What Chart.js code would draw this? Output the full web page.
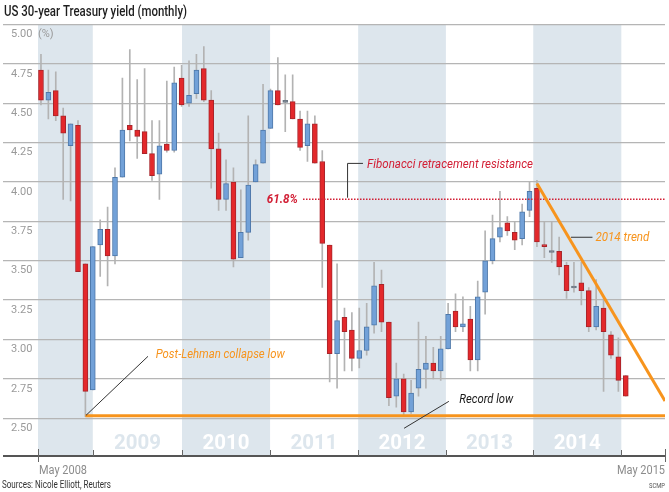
<!DOCTYPE html>
<html>
<head>
<meta charset="utf-8">
<script src="https://cdn.jsdelivr.net/npm/chart.js@4.4.1/dist/chart.umd.min.js"></script>
<style>
  body { margin: 0; background: #fff; }
  #myChart { display: block; }
</style>
</head>
<body>
<canvas id="myChart" width="669" height="492"></canvas>
<script>
// monthly candles, Jun 2008 .. Jan 2015
const months = [
  "Jun 2008", "Jul 2008", "Aug 2008", "Sep 2008", "Oct 2008", "Nov 2008", "Dec 2008",
  "Jan 2009", "Feb 2009", "Mar 2009", "Apr 2009", "May 2009", "Jun 2009", "Jul 2009", "Aug 2009", "Sep 2009", "Oct 2009", "Nov 2009", "Dec 2009",
  "Jan 2010", "Feb 2010", "Mar 2010", "Apr 2010", "May 2010", "Jun 2010", "Jul 2010", "Aug 2010", "Sep 2010", "Oct 2010", "Nov 2010", "Dec 2010",
  "Jan 2011", "Feb 2011", "Mar 2011", "Apr 2011", "May 2011", "Jun 2011", "Jul 2011", "Aug 2011", "Sep 2011", "Oct 2011", "Nov 2011", "Dec 2011",
  "Jan 2012", "Feb 2012", "Mar 2012", "Apr 2012", "May 2012", "Jun 2012", "Jul 2012", "Aug 2012", "Sep 2012", "Oct 2012", "Nov 2012", "Dec 2012",
  "Jan 2013", "Feb 2013", "Mar 2013", "Apr 2013", "May 2013", "Jun 2013", "Jul 2013", "Aug 2013", "Sep 2013", "Oct 2013", "Nov 2013", "Dec 2013",
  "Jan 2014", "Feb 2014", "Mar 2014", "Apr 2014", "May 2014", "Jun 2014", "Jul 2014", "Aug 2014", "Sep 2014", "Oct 2014", "Nov 2014", "Dec 2014",
  "Jan 2015"
];
const open = [
  4.71, 4.52, 4.58, 4.42, 4.23, 4.36, 3.48,
  2.68, 3.60, 3.70, 3.53, 4.03, 4.36, 4.33, 4.32, 4.18, 4.05, 4.24, 4.20,
  4.66, 4.50, 4.56, 4.72, 4.52, 4.21, 3.89, 4.00, 3.52, 3.68, 4.00, 4.12,
  4.34, 4.58, 4.51, 4.51, 4.40, 4.23, 4.37, 4.13, 3.60, 2.91, 3.14, 3.06,
  2.88, 2.93, 3.09, 3.35, 3.11, 2.64, 2.75, 2.54, 2.69, 2.81, 2.85, 2.80,
  2.94, 3.18, 3.08, 3.13, 2.87, 3.30, 3.50, 3.65, 3.74, 3.68, 3.64, 3.82,
  3.96, 3.60, 3.556, 3.56, 3.47, 3.33, 3.36, 3.31, 3.08, 3.20, 3.03, 2.89,
  2.77
];
const high = [
  4.81, 4.71, 4.70, 4.47, 4.37, 4.39, 3.48,
  3.59, 3.76, 3.84, 4.09, 4.66, 4.84, 4.65, 4.72, 4.39, 4.39, 4.64, 4.73,
  4.74, 4.77, 4.81, 4.86, 4.58, 4.31, 4.14, 4.09, 3.95, 4.42, 4.14, 4.62,
  4.59, 4.79, 4.68, 4.68, 4.45, 4.45, 4.42, 4.20, 3.60, 3.48, 3.20, 3.17,
  3.20, 3.23, 3.49, 3.44, 3.11, 2.85, 2.78, 2.74, 3.11, 3.02, 2.95, 3.02,
  3.23, 3.29, 3.27, 3.21, 3.37, 3.69, 3.79, 3.94, 3.78, 3.75, 3.86, 4.00,
  4.01, 3.75, 3.75, 3.65, 3.49, 3.49, 3.49, 3.33, 3.38, 3.26, 3.05, 3.01,
  2.77
];
const low = [
  4.49, 4.40, 4.39, 3.89, 3.88, 3.43, 2.51,
  2.68, 3.40, 3.34, 3.48, 4.03, 4.26, 4.15, 4.18, 4.01, 3.89, 4.19, 4.19,
  4.48, 4.48, 4.53, 4.51, 3.96, 3.82, 3.82, 3.46, 3.52, 3.63, 4.00, 4.12,
  4.34, 4.49, 4.32, 4.40, 4.20, 4.13, 4.12, 3.33, 2.73, 2.69, 2.80, 2.80,
  2.82, 2.90, 3.04, 3.05, 2.58, 2.57, 2.51, 2.53, 2.64, 2.69, 2.75, 2.74,
  2.94, 3.05, 3.05, 2.80, 2.80, 3.16, 3.48, 3.62, 3.66, 3.57, 3.60, 3.78,
  3.59, 3.52, 3.49, 3.41, 3.26, 3.30, 3.22, 3.05, 3.06, 2.67, 2.88, 2.67,
  2.64
];
const close = [
  4.52, 4.57, 4.42, 4.31, 4.37, 3.43, 2.67,
  3.59, 3.70, 3.53, 4.03, 4.33, 4.33, 4.29, 4.18, 4.04, 4.23, 4.20, 4.63,
  4.49, 4.55, 4.71, 4.52, 4.21, 3.89, 3.99, 3.51, 3.68, 3.98, 4.11, 4.33,
  4.58, 4.49, 4.505, 4.40, 4.22, 4.37, 4.12, 3.61, 2.91, 3.12, 3.05, 2.88,
  2.93, 3.08, 3.34, 3.11, 2.63, 2.75, 2.54, 2.66, 2.81, 2.85, 2.80, 2.94,
  3.16, 3.08, 3.10, 2.87, 3.27, 3.50, 3.64, 3.71, 3.69, 3.63, 3.81, 3.94,
  3.62, 3.59, 3.552, 3.46, 3.31, 3.327, 3.31, 3.08, 3.21, 3.05, 2.90, 2.74,
  2.64
];

const yTicks = [2.50, 2.75, 3.00, 3.25, 3.50, 3.75, 4.00, 4.25, 4.50, 4.75, 5.00];

// x axis in months from Jun 2008 (0)
const axisEnds = [-0.4, 84.3];
const axisEndLabels = ["May 2008", "May 2015"];
const yearStarts = [7, 19.05, 30.95, 42.85, 54.7, 66.5, 78.4];
const yearNames = ["2009", "2010", "2011", "2012", "2013", "2014"];

// levels drawn on the chart
const lowLevel = 2.515;       // post-Lehman / record low
const lowFrom = 6;
const fibLevel = 3.89;        // 61.8% retracement
const fibFrom = 35.4;
const trendFrom = { x: 67, y: 3.99 };
const trendTo = { x: 84.3, y: 2.61 };

const BLUE = "#72a1d8", BLUE_EDGE = "#4e78a9";
const RED = "#e3282b", RED_EDGE = "#a8242a";
const ORANGE = "#f7941d";
const FIBRED = "#d21f35";
const BAND = "#dde6ed";

const bodyData = months.map((m, i) => ({ x: i, y: [open[i], close[i]] }));
const wickData = months.map((m, i) => ({ x: i, y: [low[i], high[i]] }));
const bodyFill = months.map((m, i) => {
  if (Math.abs(close[i] - open[i]) < 0.01) return "#6d7885";
  return close[i] > open[i] ? BLUE : RED;
});
const bodyEdge = months.map((m, i) => {
  if (Math.abs(close[i] - open[i]) < 0.01) return "#6d7885";
  return close[i] > open[i] ? BLUE_EDGE : RED_EDGE;
});

function fitText(ctx, text, x, y, w, align) {
  const m = ctx.measureText(text).width;
  ctx.save();
  ctx.translate(x, y);
  ctx.scale(w / m, 1);
  ctx.textAlign = align || "left";
  ctx.fillText(text, 0, 0);
  ctx.restore();
}

const SANS = 'Roboto, "Liberation Sans", sans-serif';

const backdrop = {
  id: "backdrop",
  beforeDraw(chart) {
    const ctx = chart.ctx;
    const xs = chart.scales.x, ys = chart.scales.y;
    const top = chart.chartArea.top, bottom = chart.chartArea.bottom;
    ctx.save();
    ctx.fillStyle = "#fff";
    ctx.fillRect(0, 0, chart.width, chart.height);
    // shaded years: 2008, 2010, 2012, 2014
    const edges = [axisEnds[0]].concat(yearStarts);
    ctx.fillStyle = BAND;
    for (let k = 0; k < edges.length - 1; k += 2) {
      const x0 = xs.getPixelForValue(edges[k]);
      const x1 = xs.getPixelForValue(edges[k + 1]);
      ctx.fillRect(x0, top, x1 - x0, bottom - top);
    }
    // year names
    ctx.font = "bold 21px " + SANS;
    ctx.textBaseline = "middle";
    for (let k = 0; k < yearNames.length; k++) {
      const cx = (xs.getPixelForValue(yearStarts[k]) + xs.getPixelForValue(yearStarts[k + 1])) / 2;
      ctx.fillStyle = k % 2 === 0 ? BAND : "#ffffff";
      fitText(ctx, yearNames[k], cx, ys.getPixelForValue(2.335), 47, "center");
    }
    ctx.restore();
  },
  afterDraw(chart) {
    const ctx = chart.ctx;
    const xs = chart.scales.x, ys = chart.scales.y;
    const px = v => xs.getPixelForValue(v);
    const py = v => ys.getPixelForValue(v);
    const left = chart.chartArea.left, right = chart.chartArea.right;
    const bottom = chart.chartArea.bottom;
    ctx.save();

    // bottom axis
    ctx.strokeStyle = "#555";
    ctx.lineWidth = 2;
    ctx.beginPath();
    ctx.moveTo(left, bottom);
    ctx.lineTo(right, bottom);
    ctx.stroke();
    ctx.lineWidth = 1;
    ctx.strokeStyle = "#666";
    ctx.beginPath();
    yearStarts.forEach(v => {
      const x = Math.round(px(v)) + 0.5;
      ctx.moveTo(x, bottom - 6);
      ctx.lineTo(x, bottom);
    });
    axisEnds.forEach(v => {
      const x = Math.round(px(v)) + 0.5;
      ctx.moveTo(x, bottom - 7);
      ctx.lineTo(x, bottom + 6);
    });
    ctx.stroke();

    // leader lines
    ctx.strokeStyle = "#333";
    ctx.lineWidth = 1;
    ctx.beginPath();
    ctx.moveTo(px(14.46), py(2.893));
    ctx.lineTo(px(6.08), py(2.518));
    ctx.moveTo(px(55.1), py(2.607));
    ctx.lineTo(px(49.05), py(2.436));
    ctx.moveTo(px(41.35) + 0.5, py(3.90));
    ctx.lineTo(px(41.35) + 0.5, py(4.118));
    ctx.lineTo(px(43.5), py(4.118));
    ctx.moveTo(px(71.6), py(3.649));
    ctx.lineTo(px(74.5), py(3.649));
    ctx.stroke();

    // annotation texts
    ctx.textBaseline = "middle";
    ctx.font = "italic 13px " + SANS;
    ctx.fillStyle = FIBRED;
    fitText(ctx, "Fibonacci retracement resistance", px(44.05), py(4.111), 166, "left");
    ctx.font = "italic bold 13px " + SANS;
    fitText(ctx, "61.8%", px(34.7), py(3.89), 31, "right");
    ctx.font = "italic 13px " + SANS;
    ctx.fillStyle = ORANGE;
    fitText(ctx, "Post-Lehman collapse low", px(15.5), py(2.906), 129, "left");
    fitText(ctx, "2014 trend", px(74.9), py(3.649), 54, "left");
    ctx.fillStyle = "#1a1a1a";
    fitText(ctx, "Record low", px(56.5), py(2.62), 54, "left");

    // title and footer
    ctx.fillStyle = "#1e1e1e";
    ctx.font = "500 14px " + SANS;
    fitText(ctx, "US 30-year Treasury yield (monthly)", 4, 12, 183, "left");
    ctx.fillStyle = "#8c8c8c";
    ctx.font = "12px " + SANS;
    fitText(ctx, axisEndLabels[0], px(axisEnds[0]) + 1, 471, 48, "left");
    fitText(ctx, axisEndLabels[1], px(axisEnds[1]), 471, 48, "right");
    ctx.fillStyle = "#333";
    ctx.font = "10px " + SANS;
    fitText(ctx, "Sources: Nicole Elliott, Reuters", 2, 485, 109, "left");
    ctx.font = "8px " + SANS;
    ctx.fillStyle = "#555";
    fitText(ctx, "SCMP", 665, 486, 16, "right");
    ctx.restore();
  }
};

const ctx = document.getElementById("myChart").getContext("2d");
const myChart = new Chart(ctx, {
  type: "bar",
  data: {
    datasets: [
      {
        type: "line",
        data: [{ x: lowFrom, y: lowLevel }, { x: axisEnds[1], y: lowLevel }],
        borderColor: ORANGE,
        borderWidth: 3,
        pointRadius: 0,
      },
      {
        type: "line",
        data: [trendFrom, trendTo],
        borderColor: ORANGE,
        borderWidth: 3,
        pointRadius: 0,
      },
      {
        type: "line",
        data: [{ x: fibFrom, y: fibLevel }, { x: axisEnds[1], y: fibLevel }],
        borderColor: FIBRED,
        borderWidth: 1.5,
        borderDash: [1.5, 1.5],
        pointRadius: 0,
      },
      {
        label: "body",
        data: bodyData,
        backgroundColor: bodyFill,
        borderColor: bodyEdge,
        borderWidth: 1,
        borderSkipped: false,
        barThickness: 5,
        minBarLength: 2,
        grouped: false,
      },
      {
        label: "wick",
        data: wickData,
        backgroundColor: "#b3b3b3",
        barThickness: 1,
        grouped: false,
      },
    ],
  },
  options: {
    responsive: false,
    animation: false,
    devicePixelRatio: 1,
    layout: { padding: { left: 3, right: 4, top: 24.5, bottom: 36 } },
    scales: {
      x: {
        type: "linear",
        min: -5.13,
        max: axisEnds[1],
        offset: false,
        display: false,
      },
      y: {
        min: 2.26,
        max: 5.0,
        afterBuildTicks: s => { s.ticks = yTicks.map(v => ({ value: v })); },
        afterFit: s => { s.width = 0; },
        border: { display: false },
        grid: { color: "#b5b5b5", lineWidth: 1.2, drawTicks: false },
        ticks: {
          mirror: true,
          padding: 8,
          labelOffset: 10,
          color: "#9a9a9a",
          font: { family: SANS, size: 11 },
          callback: v => (v === 5 ? "5.00  (%)" : v.toFixed(2)),
        },
      },
    },
    plugins: {
      legend: { display: false },
      tooltip: { enabled: false },
    },
  },
  plugins: [backdrop],
});
</script>
</body>
</html>
